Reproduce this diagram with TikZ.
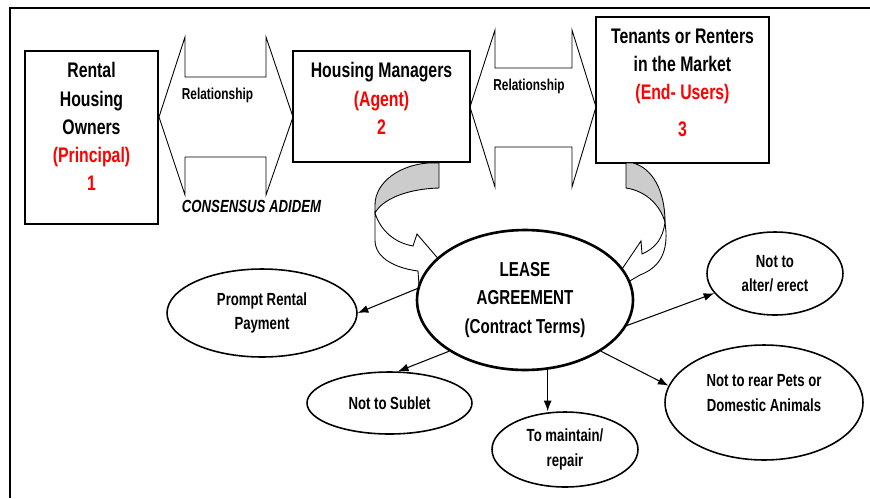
\documentclass[tikz,border=0pt]{standalone}
\usepackage{fontspec}
\usepackage{tikz}
\usetikzlibrary{shapes,calc,positioning,arrows.meta}
\newfontfamily\narrowsf{Liberation Sans}[FakeStretch=0.75]
\definecolor{redtext}{RGB}{255,0,0}
\definecolor{shadegray}{RGB}{204,204,204}
\newcommand{\redtxt}[1]{\textcolor{redtext}{#1}}
\tikzset{
  box/.style={draw, rectangle, line width=1.1pt, inner sep=0pt},
  boxtext/.style={align=center, inner sep=0pt, font=\narrowsf\bfseries\fontsize{12}{16}\selectfont},
  relarrow/.style={draw, fill=white, line width=0.5pt},
  reltext/.style={inner sep=0pt, font=\narrowsf\bfseries\fontsize{9}{11}\selectfont},
  uturn/.style={draw, line width=0.5pt},
  term/.style={ellipse, draw, fill=white, line width=0.9pt, inner sep=0pt, align=center, font=\narrowsf\bfseries\fontsize{10}{14}\selectfont},
  termarrow/.style={-{Latex[length=6pt,width=4.5pt]}, line width=0.6pt}
}

\begin{document}
\begin{tikzpicture}[x=0.02cm, y=-0.02cm]
        \useasboundingbox (0,0) rectangle (870,498);
        %Frame
        \draw[line width=1.2pt] (10,498) -- (10,8) -- (870,8);
        %Relationship arrows
        \draw[relarrow] (159,117) -- (185,37) -- (185,77) -- (266,77) -- (266,37) -- (293,117)
              -- (266,195) -- (266,157) -- (185,157) -- (185,195) -- cycle;
        \draw[relarrow] (470,107) -- (495,30) -- (495,68) -- (572,68) -- (572,30) -- (596,107)
              -- (572,187) -- (572,147) -- (495,147) -- (495,187) -- cycle;
        \node[reltext] (rel1) at (217.5,95) {Relationship};
        \node[reltext] (rel2) at (529,86) {Relationship};
        \node[inner sep=0pt, font=\narrowsf\bfseries\itshape\fontsize{10}{12}\selectfont] (consensus) at (251.5,206) {CONSENSUS ADIDEM};
        %Parties
        \node[box, minimum width=2.66cm, minimum height=3.46cm] (owners) at (91.5,137.5) {};
        \node[box, minimum width=3.54cm, minimum height=2.22cm] (managers) at (381.5,106.5) {};
        \node[box, minimum width=3.46cm, minimum height=2.92cm] (tenants) at (682.5,90) {};
        \node[boxtext, below=7pt of owners.north] (ownerstxt) {Rental\\Housing\\Owners\\\redtxt{(Principal)}\\\redtxt{1}};
        \node[boxtext, below=7pt of managers.north] (managerstxt) {Housing Managers\\\redtxt{(Agent)}\\\redtxt{2}};
        \node[boxtext, below=7pt of tenants.north] (tenantstxt) {Tenants or Renters\\in the Market\\\redtxt{(End- Users)}\\[5pt]\redtxt{3}};
        %Curved arrows
        \filldraw[uturn, fill=shadegray] (428,163) .. controls (400,165) and (375,182) .. (375,205) -- (375,213)
              .. controls (382,200) and (405,189) .. (439,188) -- (439,163) -- cycle;
        \filldraw[uturn, fill=white] (375,213) .. controls (381,232) and (396,243) .. (413,246) -- (417,234)
              -- (441,262) -- (419,285) -- (418,271) .. controls (395,268) and (375,258) .. (375,240) -- cycle;
        \filldraw[uturn, fill=shadegray] (626,163) -- (633,163) .. controls (652,168) and (665,190) .. (665,222)
              .. controls (660,205) and (646,191) .. (626,188) -- cycle;
        \filldraw[uturn, fill=white] (665,222) .. controls (663,238) and (656,248) .. (642,254) -- (641,241)
              -- (620,272) -- (628,282) -- (640,275) .. controls (658,268) and (667,255) .. (666,232) -- cycle;
        %Contract terms
        \node[term, line width=1.5pt, minimum width=4.32cm, minimum height=2.8cm,
              font=\narrowsf\bfseries\fontsize{11.5}{16}\selectfont] (lease) at (525,300) {LEASE\\AGREEMENT\\(Contract Terms)};
        \node[term, minimum width=3.8cm, minimum height=1.76cm] (prompt) at (262,313) {Prompt Rental\\Payment};
        \node[term, minimum width=2.72cm, minimum height=1.66cm] (alter) at (775,273.5) {Not to\\alter/ erect};
        \node[term, minimum width=3.3cm, minimum height=1.24cm] (sublet) at (389.5,403) {Not to Sublet};
        \node[term, minimum width=2.92cm, minimum height=1.5cm] (maintain) at (565,449.5) {To maintain/\\repair};
        \node[term, minimum width=3.96cm, minimum height=2.3cm, text depth=11pt] (pets) at (764,402.5) {Not to rear Pets or\\Domestic Animals};
        %Arrows
        \draw[termarrow] (lease.174) -- (prompt.east);
        \draw[termarrow] (lease.-14) -- (alter.198);
        \draw[termarrow] (lease.214) -- (sublet.75);
        \draw[termarrow] (lease.-72) -- (lease.-72 |- maintain.north);
        \draw[termarrow] (lease.-34) -- (pets.170);
      \end{tikzpicture}
\end{document}
